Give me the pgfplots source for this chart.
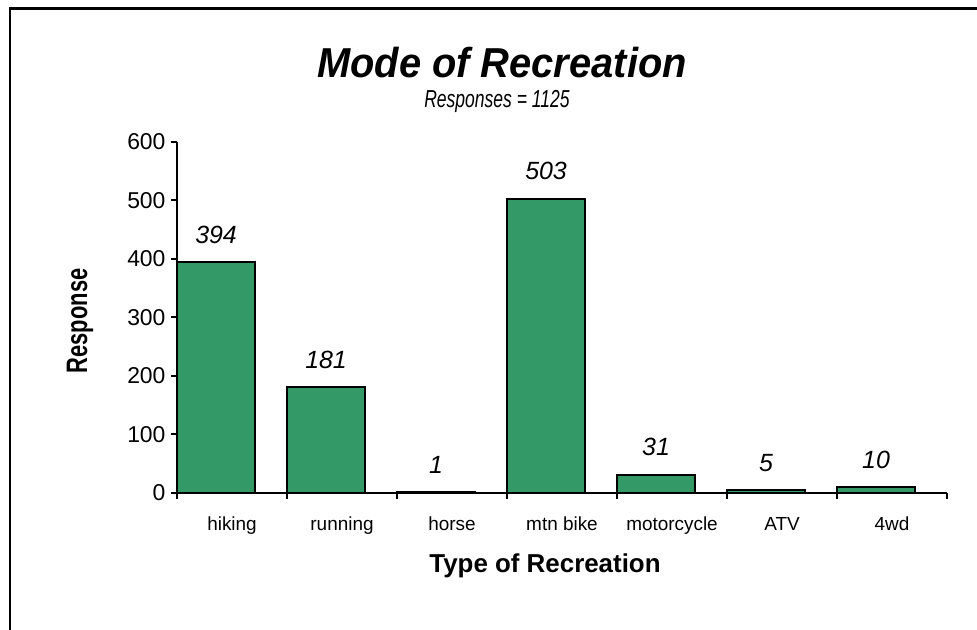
\documentclass[border=0pt]{standalone}
\usepackage{pgfplots}
\pgfplotsset{compat=1.18}
\usepackage{fontspec}
\setmainfont{Liberation Sans}
\definecolor{barg}{HTML}{339966}
\begin{document}
\begin{tikzpicture}[x=1bp,y=1bp]
\path[use as bounding box] (0,0) rectangle (977,630);
\draw[line width=2.5bp] (10,0) -- (10,621.5) -- (977,621.5);
\node[font=\fontsize{40}{44}\selectfont\bfseries\itshape, anchor=base] at (502,552) {\scalebox{1}[1.05]{Mode of Recreation}};
\node[font=\fontsize{17.6}{22}\selectfont\itshape, anchor=base] at (497,522) {\scalebox{1}[1.4]{Responses = 1125}};
\node[font=\fontsize{26}{30}\selectfont\bfseries, anchor=base] at (545,57) {Type of Recreation};
\node[font=\fontsize{22}{26}\selectfont\bfseries, rotate=90] at (80,309) {\scalebox{1}[1.35]{Response}};
\begin{axis}[
  at={(177bp,137bp)}, anchor=south west,
  width=770bp, height=351bp, scale only axis,
  xmin=0, xmax=7, ymin=0, ymax=600,
  axis lines=left, axis line style={-, line width=2.5bp},
  axis on top, clip=false,
  ytick={0,100,...,600},
  xtick={0,...,7}, xticklabels={},
  extra x ticks={0.5,1.5,2.5,3.5,4.5,5.5,6.5},
  extra x tick labels={hiking,running,horse,mtn bike,motorcycle,ATV,4wd},
  extra x tick style={major tick length=0pt, tick label style={anchor=base, yshift=-38bp}},
  tick style={line width=2bp, black}, major tick length=6bp, tick align=outside,
  xticklabel style={font=\fontsize{19}{22}\selectfont},
  yticklabel style={font=\fontsize{23}{26}\selectfont, anchor=east, xshift=-2bp},
  /pgf/number format/assume math mode=true,
  ybar, bar width=0.71, bar shift=0pt,
  nodes near coords,
  every node near coord/.append style={font=\fontsize{25}{29}\selectfont\itshape, anchor=base, yshift=19bp},
]
\addplot[draw=black, line width=2bp, fill=barg] coordinates {
  (0.355,394) (1.355,181) (2.355,1) (3.355,503) (4.355,31) (5.355,5) (6.355,10)
};
\end{axis}
\end{tikzpicture}
\end{document}
